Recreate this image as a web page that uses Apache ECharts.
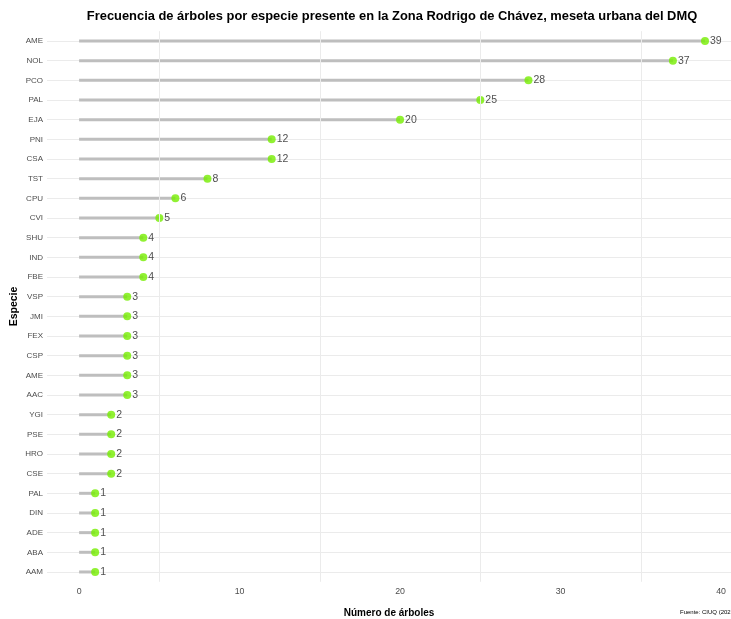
<!DOCTYPE html>
<html>
<head>
<meta charset="utf-8">
<script src="https://cdn.jsdelivr.net/npm/echarts@6/dist/echarts.min.js"></script>
<style>
html,body{margin:0;padding:0;background:#fff;}
#chart{width:731px;height:619px;}
</style>
</head>
<body>
<div id="chart"></div>
<script>
const especies = ['AME','NOL','PCO','PAL','EJA','PNI','CSA','TST','CPU','CVI','SHU','IND','FBE','VSP','JMI','FEX','CSP','AME','AAC','YGI','PSE','HRO','CSE','PAL','DIN','ADE','ABA','AAM'];
const arboles = [39,37,28,25,20,12,12,8,6,5,4,4,4,3,3,3,3,3,3,2,2,2,2,1,1,1,1,1];
const xTicks = [0,10,20,30,40];
const xMinorLines = [5,15,25,35];
const titulo = 'Frecuencia de árboles por especie presente en la Zona Rodrigo de Chávez, meseta urbana del DMQ';
const tituloX = 'Número de árboles';
const tituloY = 'Especie';
const fuente = 'Fuente: CIUQ (2020)';

const FONT = '"Liberation Sans", Arial, sans-serif';
const chart = echarts.init(document.getElementById('chart'), null, {renderer:'canvas'});
chart.setOption({
  animation:false,
  backgroundColor:'#ffffff',
  graphic:[{
    type:'text', x:392, y:9.5,
    style:{text:titulo, fontFamily:FONT, fontWeight:'bold', fontSize:12.9, fill:'#000', align:'center', verticalAlign:'top'}
  },{
    type:'text', x:680, y:609,
    style:{text:fuente, fontFamily:FONT, fontSize:6, fill:'#000'}
  }],
  grid:{left:47, right:0, top:31.2, bottom:37.2, containLabel:false, outerBoundsMode:'none'},
  xAxis:{
    type:'value', min:-2, max:40.62,
    name: tituloX, nameLocation:'middle', nameGap:26,
    nameTextStyle:{fontFamily:FONT, fontWeight:'bold', fontSize:10, color:'#000'},
    axisLine:{show:false}, axisTick:{show:false},
    splitLine:{show:false},
    axisLabel:{customValues:xTicks, margin:5, fontFamily:FONT, fontSize:8.8, color:'#4D4D4D'}
  },
  yAxis:{
    type:'category', data: especies, inverse:true,
    name: tituloY, nameLocation:'middle', nameGap:27, nameMoveOverlap:false,
    nameTextStyle:{fontFamily:FONT, fontWeight:'bold', fontSize:10.5, color:'#000'},
    axisLine:{show:false}, axisTick:{show:false},
    splitLine:{show:true, alignWithLabel:true, lineStyle:{color:'#EBEBEB', width:1}},
    axisLabel:{margin:4, fontFamily:FONT, fontSize:8, color:'#4D4D4D', interval:0}
  },
  series:[
    {
      type:'bar', data: arboles, barWidth:3, itemStyle:{color:'#BEBEBE'},
      silent:true, z:2,
      markLine:{
        silent:true, symbol:'none', label:{show:false},
        lineStyle:{color:'#EBEBEB', width:1, type:'solid'},
        data: xMinorLines.map(v => ({xAxis:v}))
      }
    },
    {
      type:'scatter', data: arboles, symbol:'circle', symbolSize:8,
      itemStyle:{color:'#76EE00'}, z:3,
      label:{show:true, position:'right', distance:1, fontFamily:FONT, fontSize:10.5, color:'#222'}
    }
  ]
});
</script>
</body>
</html>
